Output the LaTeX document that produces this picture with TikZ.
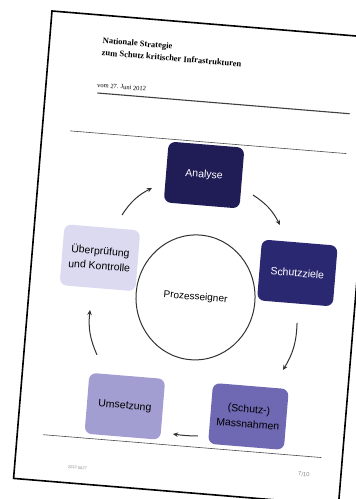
\documentclass[tikz,border=0pt]{standalone}
\usepackage{fontspec}
\setmainfont{Liberation Serif}
\newfontfamily\arialf{Liberation Sans}
\usetikzlibrary{arrows.meta,shapes.geometric}
\definecolor{cA}{HTML}{201C55}
\definecolor{cS}{HTML}{2B2872}
\definecolor{cM}{HTML}{6F68B3}
\definecolor{cU}{HTML}{A29ED2}
\definecolor{cK}{HTML}{DCDAF0}
\definecolor{arrgray}{HTML}{333333}
\tikzset{
  x=1pt, y=1pt,
  stagebox/.style={rectangle, rounded corners=7pt, minimum width=76pt, minimum height=61pt,
    inner sep=2pt, align=center, font=\arialf\fontsize{10.5}{15}\selectfont},
  cyclearrow/.style={draw=arrgray, line width=1pt, -{Stealth[length=5pt,width=4.5pt]}},
  rule/.style={draw=black!70, line width=0.6pt}
}
\begin{document}
\begin{tikzpicture}
\useasboundingbox (0,0) rectangle (356,-499);
\fill[white] (0,0) rectangle (356,-499);
\begin{scope}[shift={(52,-11)}, rotate=-4.7, transform shape]
  % page
  \draw[line width=1.6pt, fill=white] (0,0) rectangle (326,-469);
  % header
  \node[anchor=north west, align=left, inner sep=0pt,
        font=\bfseries\fontsize{8.5}{12}\selectfont] (title) at (53,-22)
        {Nationale Strategie\\zum Schutz kritischer Infrastrukturen};
  \node[anchor=west, inner sep=0pt, font=\fontsize{6.5}{8}\selectfont] (date) at (51,-70)
        {vom 27. Juni 2012};
  \draw[draw=black!75, line width=1.1pt] (52,-78) -- (305,-78);
  \draw[rule] (28,-118) -- (305,-118);
  \draw[rule] (26,-423) -- (305,-423);
  % diagram
  \node[draw=black!80, line width=1pt, ellipse, minimum width=119pt, minimum height=125pt,
        inner sep=0pt, font=\arialf\fontsize{10}{12}\selectfont] (proc) at (166.5,-273.7) {Prozesseigner};
  \node[stagebox, fill=cA, text=white] (ana) at (165,-151) {Analyse};
  \node[stagebox, fill=cS, text=white] (ziel) at (266,-241) {Schutzziele};
  \node[stagebox, fill=cM, text=black] (mass) at (229,-388) {(Schutz-)\\Massnahmen};
  \node[stagebox, fill=cU, text=black] (ums) at (105,-388) {Umsetzung};
  \node[stagebox, fill=cK, text=black] (ueb) at (68,-242) {Überprüfung\\und Kontrolle};
  % arrow ends
  \coordinate (a1) at (215.4,-166.9); \coordinate (a2) at (244.7,-194.6);
  \coordinate (b1) at (269.8,-290.8); \coordinate (b2) at (259.6,-338.9);
  \coordinate (c1) at (180.3,-411.6); \coordinate (c2) at (155.2,-411.7);
  \coordinate (d1) at (73,-339);      \coordinate (d2) at (62.4,-294.9);
  \coordinate (e1) at (86.5,-197.6);  \coordinate (e2) at (114.2,-168.2);
  \draw[cyclearrow] (a1) to[bend left=15] (a2);
  \draw[cyclearrow] (b1) to[bend left=15] (b2);
  \draw[cyclearrow] (c1) to[bend left=4] (c2);
  \draw[cyclearrow] (d1) to[bend left=15] (d2);
  \draw[cyclearrow] (e1) to[bend left=15] (e2);
  % footer
  \node[anchor=west, inner sep=0pt, text=black!45, font=\arialf\fontsize{4}{5}\selectfont] (fl) at (53,-453) {2012-0627};
  \node[anchor=west, inner sep=0pt, text=black!45, font=\arialf\fontsize{6}{7}\selectfont] (fr) at (283,-441) {7/10};
\end{scope}
\end{tikzpicture}
\end{document}
